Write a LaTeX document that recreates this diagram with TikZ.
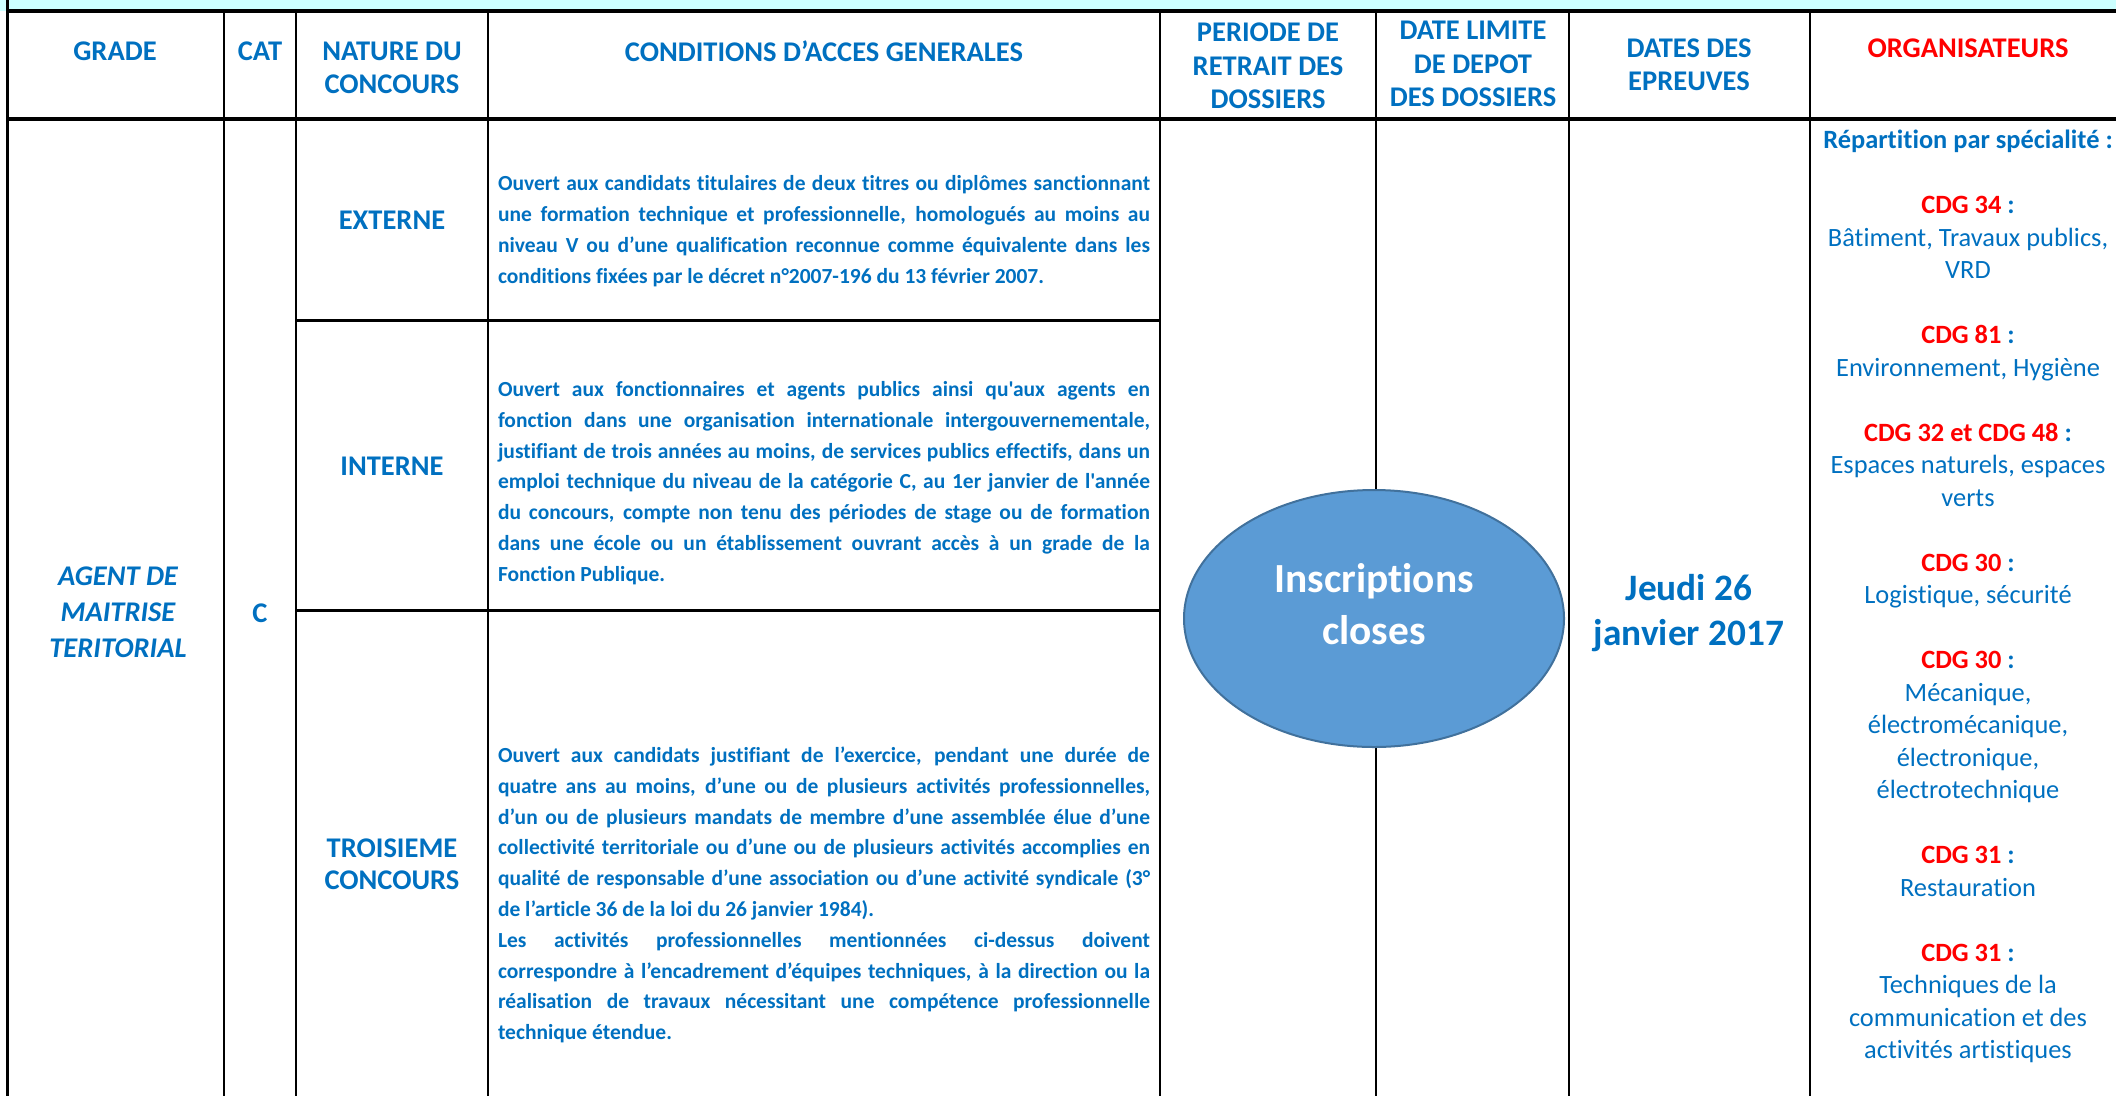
\documentclass[tikz,border=0pt]{standalone}
\usepackage{fontspec}
\setmainfont{Carlito}[Ligatures={TeXOff,NoCommon}]
\usepackage{tikz}
\usetikzlibrary{shapes.geometric}

\definecolor{hdrblue}{HTML}{0070C0}
\definecolor{orgred}{HTML}{FF0000}
\definecolor{bandcyan}{HTML}{CCFFFF}
\definecolor{ovalfill}{HTML}{5B9BD5}
\definecolor{ovaldraw}{HTML}{41719C}

\begin{document}
\begin{tikzpicture}[x=1pt, y=-1pt,
  hdr/.style={font=\fontsize{28.5}{33.5}\selectfont\bfseries, text=hdrblue, align=center, inner sep=0},
  kind/.style={font=\fontsize{28.5}{32.5}\selectfont\bfseries, text=hdrblue, align=center, inner sep=0},
  grade/.style={font=\fontsize{28.5}{36}\selectfont\bfseries\itshape, text=hdrblue, align=center, inner sep=0},
  cond/.style={font={\fontsize{21.5}{30.8}\selectfont\bfseries\hyphenpenalty=10000 \exhyphenpenalty=10000 \tolerance=9999},
    text=hdrblue, text width=652, align=justify, inner sep=0},
  orga/.style={font=\fontsize{26.4}{32.5}\selectfont, text=hdrblue, align=center, inner sep=0},
  oval/.style={ellipse, fill=ovalfill, draw=ovaldraw, line width=2, minimum width=380, minimum height=257, inner sep=0},
  ovaltext/.style={font=\fontsize{41.4}{51.6}\selectfont\bfseries, text=white, align=center, inner sep=0},
  date/.style={font=\fontsize{37.3}{45}\selectfont\bfseries, text=hdrblue, align=center, inner sep=0}]
\useasboundingbox (0,0) rectangle (2116,1096);

% grid of the table
\fill[bandcyan] (0,0) rectangle (2116,11);
\draw[line width=3] (7,0) -- (7,1096);
\draw[line width=2] (224,11) -- (224,1096) (296,11) -- (296,1096)
  (488,11) -- (488,1096) (1160,11) -- (1160,1096);
\draw[line width=1.6] (1376,11) -- (1376,1096) (1569,11) -- (1569,1096) (1810,11) -- (1810,1096);
\draw[line width=3] (296,320) -- (1160,320) (296,610) -- (1160,610);
\draw[line width=3.5] (7,11) -- (2116,11) (7,119) -- (2116,119);

% header row
\node[hdr] (h_grade) at (115,51) {GRADE};
\node[hdr] (h_cat) at (260,51) {CAT};
\node[hdr] (h_nature) at (392,68) {NATURE DU\\CONCOURS};
\node[hdr] (h_cond) at (824,51) {CONDITIONS D’ACCES GENERALES};
\node[hdr] (h_retrait) at (1268,66) {PERIODE DE\\RETRAIT DES\\DOSSIERS};
\node[hdr] (h_depot) at (1473,64) {DATE LIMITE\\DE DEPOT\\DES DOSSIERS};
\node[hdr] (h_epreuves) at (1689,65) {DATES DES\\EPREUVES};
\node[hdr, text=orgred] (h_orga) at (1968,48) {ORGANISATEURS};

% left columns
\node[grade] (grade) at (118,612) {AGENT DE\\MAITRISE\\TERITORIAL};
\node[kind] (cat) at (260,613) {C};
\node[kind] (externe) at (392,220) {EXTERNE};
\node[kind] (interne) at (392,466) {INTERNE};
\node[kind] (troisieme) at (392,864) {TROISIEME\\CONCOURS};

% conditions
\node[cond] (c_externe) at (824,231) {Ouvert aux candidats titulaires de deux titres ou diplômes sanctionnant\linebreak
une formation technique et professionnelle, homologués au moins au\linebreak
niveau V ou d’une qualification reconnue comme équivalente dans les\linebreak
conditions fixées par le décret n°2007-196 du 13 février 2007.};
\node[cond] (c_interne) at (824,483) {Ouvert aux fonctionnaires et agents publics ainsi qu'aux agents en\linebreak
fonction dans une organisation internationale intergouvernementale,\linebreak
justifiant de trois années au moins, de services publics effectifs, dans un\linebreak
emploi technique du niveau de la catégorie C, au 1er janvier de l'année\linebreak
du concours, compte non tenu des périodes de stage ou de formation\linebreak
dans une école ou un établissement ouvrant accès à un grade de la\linebreak
Fonction Publique.};
\node[cond] (c_troisieme) at (824,895) {Ouvert aux candidats justifiant de l’exercice, pendant une durée de\linebreak
quatre ans au moins, d’une ou de plusieurs activités professionnelles,\linebreak
d’un ou de plusieurs mandats de membre d’une assemblée élue d’une\linebreak
collectivité territoriale ou d’une ou de plusieurs activités accomplies en\linebreak
qualité de responsable d’une association ou d’une activité syndicale (3°\linebreak
de l’article 36 de la loi du 26 janvier 1984).\\
Les activités professionnelles mentionnées ci-dessus doivent\linebreak
correspondre à l’encadrement d’équipes techniques, à la direction ou la\linebreak
réalisation de travaux nécessitant une compétence professionnelle\linebreak
technique étendue.};

% closed registrations and exam date
\node[oval] (closed) at (1374,618.5) {};
\node[ovaltext] (closed_txt) at ([yshift=14.5pt]closed.center) {Inscriptions\\closes};
\node[date] (exam) at (1689,613) {Jeudi 26\\janvier 2017};

% organisers
\node[orga, anchor=north] (orgs) at (1968,130) {\textbf{Répartition par spécialité :}\\[32.5pt]
\textbf{\textcolor{orgred}{CDG 34} :}\\ Bâtiment, Travaux publics,\\ VRD\\[32.5pt]
\textbf{\textcolor{orgred}{CDG 81} :}\\ Environnement, Hygiène\\[32.5pt]
\textbf{\textcolor{orgred}{CDG 32 et CDG 48} :}\\ Espaces naturels, espaces\\ verts\\[32.5pt]
\textbf{\textcolor{orgred}{CDG 30} :}\\ Logistique, sécurité\\[32.5pt]
\textbf{\textcolor{orgred}{CDG 30} :}\\ Mécanique,\\ électromécanique,\\ électronique,\\ électrotechnique\\[32.5pt]
\textbf{\textcolor{orgred}{CDG 31} :}\\ Restauration\\[32.5pt]
\textbf{\textcolor{orgred}{CDG 31} :}\\ Techniques de la\\ communication et des\\ activités artistiques};
\end{tikzpicture}
\end{document}
